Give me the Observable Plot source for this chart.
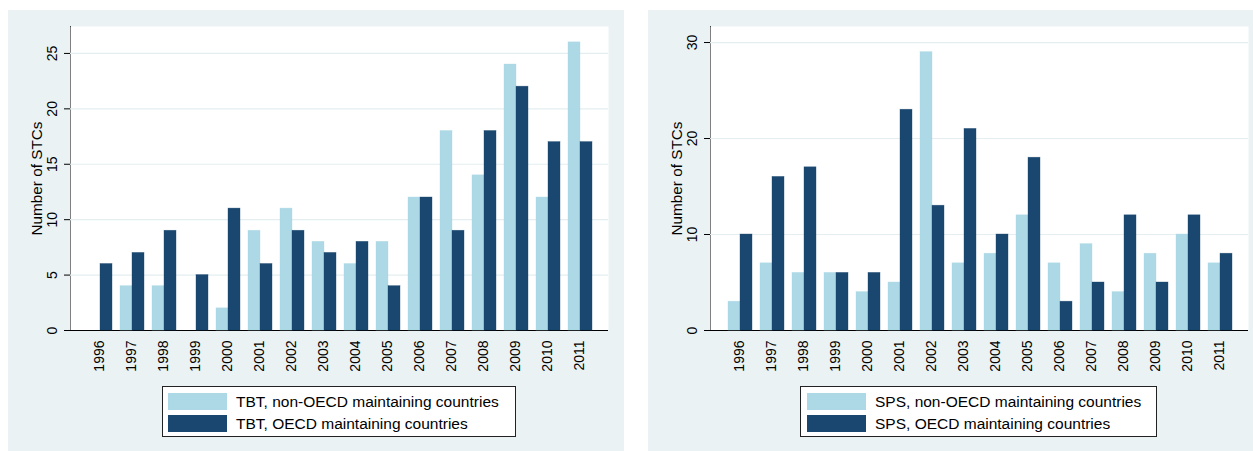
<!DOCTYPE html>
<html><head><meta charset="utf-8">
<script src="https://cdn.jsdelivr.net/npm/d3@7"></script>
<script src="https://cdn.jsdelivr.net/npm/@observablehq/plot@0.6"></script>
<style>
body{margin:0;background:#fff;font-family:"Liberation Sans",Arial,sans-serif;}
#root{position:relative;width:1253px;height:451px;overflow:hidden;background:#fff;}
.panel{position:absolute;top:10px;height:441px;background:#eaf2f3;}
.panel svg{position:absolute;left:0;top:0;background:transparent;overflow:visible;}
.panel svg [aria-label="y-axis label"] text{font-size:15.3px;}
.legend{position:absolute;top:376px;height:49px;background:#fff;border:1px solid #222;box-sizing:content-box;}
.legend .row{position:absolute;left:0;height:17px;width:100%;}
.legend .sw{position:absolute;top:0;width:59px;height:17px;}
.legend .lab{position:absolute;top:-1px;font-size:15.5px;line-height:19px;color:#000;white-space:nowrap;}
</style>
</head><body>
<div id="root"></div>
<script>
const years = [1996,1997,1998,1999,2000,2001,2002,2003,2004,2005,2006,2007,2008,2009,2010,2011];
const tbtNonOECD = [0,4,4,0,2,9,11,8,6,8,12,18,14,24,12,26];
const tbtOECD    = [6,7,9,5,11,6,9,7,8,4,12,9,18,22,17,17];
const spsNonOECD = [3,7,6,6,4,5,29,7,8,12,7,9,4,8,10,7];
const spsOECD    = [10,16,17,6,6,23,13,21,10,18,3,5,12,5,12,8];
const tbtSeries = ["TBT, non-OECD maintaining countries","TBT, OECD maintaining countries"];
const spsSeries = ["SPS, non-OECD maintaining countries","SPS, OECD maintaining countries"];
const tbtTicks = [0,5,10,15,20,25];
const spsTicks = [0,10,20,30];
const yTitle = "Number of STCs";
const seriesColors = ["#add8e6","#1a476f"];

const FONT = '"Liberation Sans", Arial, sans-serif';
const root = document.getElementById("root");

function makePanel({left, width, marginRight, series, a, b, ticks, ymax, legendLeft, legendWidth, swLeft, labLeft}) {
  const panel = document.createElement("div");
  panel.className = "panel";
  panel.style.left = left + "px";
  panel.style.width = width + "px";
  root.appendChild(panel);

  const marginLeft = 62;
  const yearStr = years.map(String);
  const rows = years.flatMap((y, i) => [
    {year: String(y), series: series[0], value: a[i]},
    {year: String(y), series: series[1], value: b[i]}
  ]);
  const common = {
    width, height: 400,
    marginLeft, marginRight, marginTop: 16, marginBottom: 80,
    style: {background: "transparent", fontFamily: FONT, fontSize: "14px", color: "#000", overflow: "visible"}
  };

  const bg = Plot.plot({
    ...common,
    y: {domain: [0, ymax], ticks, tickSize: 6, tickRotate: -90, tickPadding: 8,
        tickFormat: d => String(d), label: yTitle, labelAnchor: "center", labelArrow: false,
        labelOffset: 39, line: true},
    marks: [
      Plot.frame({fill: "white", stroke: "none"}),
      Plot.ruleY(ticks.filter(t => t > 0), {stroke: "#e4eef0", strokeWidth: 1.2}),
      Plot.ruleY([0], {stroke: "#000"})
    ]
  });
  panel.appendChild(bg);

  const bars = Plot.plot({
    ...common,
    facet: {data: rows, x: "year"},
    fx: {domain: yearStr, paddingInner: 0.22, paddingOuter: 0.31,
         axis: "bottom", tickRotate: -90, tickSize: 0, tickPadding: 10, label: null},
    x: {domain: series, padding: 0, axis: null},
    y: {domain: [0, ymax], axis: null},
    color: {domain: series, range: seriesColors},
    marks: [
      Plot.barY(rows, {x: "series", y: "value", fill: "series", stroke: "series", strokeWidth: 0.6, strokeOpacity: 0.6})
    ]
  });
  panel.appendChild(bars);

  const lg = document.createElement("div");
  lg.className = "legend";
  lg.style.left = legendLeft + "px";
  lg.style.width = legendWidth + "px";
  series.forEach((s, i) => {
    const row = document.createElement("div");
    row.className = "row";
    row.style.top = (6 + i * 22) + "px";
    const sw = document.createElement("div");
    sw.className = "sw";
    sw.style.left = swLeft + "px";
    sw.style.background = seriesColors[i];
    const lab = document.createElement("div");
    lab.className = "lab";
    lab.style.left = labLeft + "px";
    lab.textContent = s;
    row.appendChild(sw);
    row.appendChild(lab);
    lg.appendChild(row);
  });
  panel.appendChild(lg);
}

makePanel({left: 8, width: 616, marginRight: 16, series: tbtSeries, a: tbtNonOECD, b: tbtOECD,
  ticks: tbtTicks, ymax: 27.43, legendLeft: 154, legendWidth: 352, swLeft: 5, labLeft: 73});
makePanel({left: 648, width: 605, marginRight: 5, series: spsSeries, a: spsNonOECD, b: spsOECD,
  ticks: spsTicks, ymax: 31.67, legendLeft: 152, legendWidth: 355, swLeft: 6, labLeft: 74});
</script>
</body></html>
